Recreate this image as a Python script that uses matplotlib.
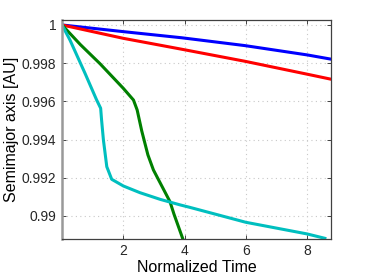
import matplotlib
matplotlib.use("Agg")
import matplotlib.pyplot as plt
from matplotlib.ticker import FormatStrFormatter

# curves
t_blue = [0, 2.0, 3.9, 5.96, 8.0, 8.77]
a_blue = [1.0, 0.99965, 0.99933, 0.99892, 0.99843, 0.99821]

t_red = [0, 2.0, 3.9, 5.96, 8.0, 8.77]
a_red = [1.0, 0.9993, 0.99873, 0.9981, 0.99742, 0.99716]

t_green = [0, 0.6, 1.24, 2.0, 2.33, 2.45, 2.6, 2.8, 2.98, 3.52, 3.65, 3.95]
a_green = [1.0, 0.99897, 0.99797, 0.99668, 0.99607, 0.99555, 0.99445, 0.99320, 0.99241, 0.99075, 0.9901, 0.98875]

t_cyan = [0, 0.26, 0.75, 1.13, 1.26, 1.29, 1.35, 1.46, 1.62, 2.0, 2.54, 3.2, 3.85, 4.17, 5.99, 7.99, 8.57]
a_cyan = [1.0, 0.99921, 0.99747, 0.99607, 0.99564, 0.99503, 0.99398, 0.99258, 0.99192,
          0.99157, 0.99122, 0.99087, 0.99058, 0.99045, 0.98967, 0.98906, 0.98883]

x_ticks = [2, 4, 6, 8]
y_ticks = [0.99, 0.992, 0.994, 0.996, 0.998, 1.0]

plt.rcParams['font.family'] = ['Liberation Sans', 'DejaVu Sans']

fig = plt.figure(figsize=(3.66, 2.75), dpi=100)
ax = fig.add_axes([0.1694, 0.132, 0.735, 0.7953])

lw = 2.2
ax.plot(t_blue, a_blue, color=(0, 0, 1), lw=lw)
ax.plot(t_red, a_red, color=(1, 0, 0), lw=lw)
ax.plot(t_green, a_green, color=(0, 0.5, 0), lw=lw)
ax.plot(t_cyan, a_cyan, color=(0, 0.75, 0.75), lw=lw)

ax.set_xlim(0, 8.77)
ax.set_ylim(0.98881, 1.00026)
ax.set_xticks(x_ticks)
ax.set_yticks(y_ticks)
ax.yaxis.set_major_formatter(FormatStrFormatter('%g'))
ax.grid(True, color='#c8c8c8', linestyle=(0, (1, 3)), linewidth=0.8)
ax.tick_params(direction='in', length=3, width=0.6, top=True, right=True,
               labelsize=10, colors='#262626', pad=4)
for s in ['top', 'right', 'bottom']:
    ax.spines[s].set_color('#404040')
    ax.spines[s].set_linewidth(0.9)
ax.spines['left'].set_color('#999999')
ax.spines['left'].set_linewidth(1.8)

ax.set_xlabel('Normalized Time', fontsize=11.5, labelpad=1)
ax.set_ylabel('Semimajor axis [AU]', fontsize=11.5, labelpad=2)

fig.savefig('out.png', dpi=100)
